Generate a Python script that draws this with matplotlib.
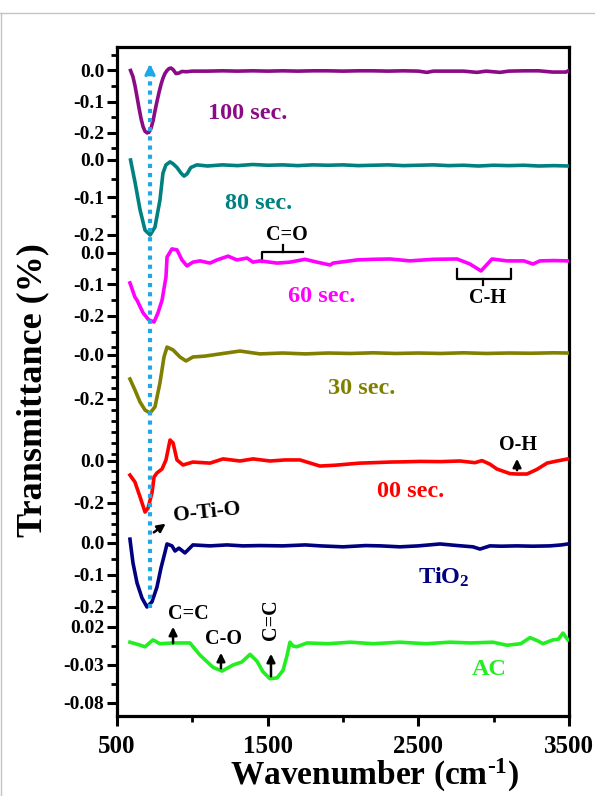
import numpy as np
import matplotlib
matplotlib.use("Agg")
import matplotlib.pyplot as plt
from matplotlib.lines import Line2D

plt.rcParams['font.family'] = ['Liberation Serif', 'DejaVu Serif']
plt.rcParams['font.weight'] = 'bold'
plt.rcParams['mathtext.fontset'] = 'custom'
plt.rcParams['mathtext.rm'] = 'Liberation Serif:bold'
plt.rcParams['mathtext.bf'] = 'Liberation Serif:bold'
plt.rcParams['mathtext.it'] = 'Liberation Serif:bold:italic'

# ---- spectra (wavenumber, transmittance) ----
wn_100 = [590, 606, 620, 633, 646, 660, 673, 686, 700, 712, 726, 740, 752, 765, 779, 792, 805, 818,
          832, 845, 858, 872, 892, 912, 931, 960, 1000, 1100, 1200, 1300, 1400, 1500, 1600, 1700,
          1800, 1900, 2000, 2100, 2200, 2300, 2400, 2500, 2557, 2600, 2700, 2800, 2889, 2950, 3042,
          3100, 3200, 3300, 3390, 3480, 3495]
tr_100 = [0.0, -0.02, -0.05, -0.085, -0.12, -0.155, -0.18, -0.195, -0.2, -0.198, -0.185, -0.16, -0.13,
          -0.1, -0.07, -0.045, -0.025, -0.01, 0.0, 0.006, 0.008, 0.003, -0.01, -0.008, -0.003, -0.004,
          -0.002, -0.002, -0.001, -0.002, -0.001, -0.002, -0.001, -0.002, -0.001, -0.001, -0.002,
          -0.001, -0.001, -0.002, -0.001, -0.002, -0.006, -0.002, -0.002, -0.002, -0.006, -0.002,
          -0.006, -0.002, -0.001, -0.001, -0.005, -0.005, -0.001]

wn_80 = [590, 620, 653, 686, 720, 752, 785, 805, 825, 852, 872, 898, 925, 945, 965, 990, 1030, 1100,
         1200, 1300, 1400, 1500, 1600, 1700, 1800, 1900, 2000, 2100, 2200, 2300, 2400, 2500, 2600,
         2700, 2800, 2900, 3000, 3100, 3200, 3300, 3400, 3495]
tr_80 = [0.0, -0.06, -0.133, -0.187, -0.2, -0.179, -0.107, -0.035, -0.013, -0.005, -0.01, -0.02,
         -0.035, -0.043, -0.037, -0.02, -0.013, -0.016, -0.013, -0.015, -0.012, -0.014, -0.013, -0.015,
         -0.013, -0.014, -0.013, -0.015, -0.014, -0.013, -0.015, -0.014, -0.013, -0.015, -0.014,
         -0.016, -0.014, -0.015, -0.014, -0.016, -0.015, -0.016]

wn_60 = [586, 619, 633, 673, 710, 746, 772, 799, 825, 832, 865, 898, 931, 964, 1004, 1051, 1117, 1164,
         1237, 1296, 1363, 1403, 1449, 1562, 1648, 1748, 1827, 1914, 1934, 2046, 2093, 2200, 2312,
         2445, 2600, 2757, 2843, 2916, 2989, 3088, 3200, 3261, 3307, 3400, 3493]
tr_60 = [-0.095, -0.14, -0.15, -0.19, -0.212, -0.219, -0.19, -0.15, -0.076, -0.013, 0.013, 0.01,
         -0.022, -0.041, -0.029, -0.025, -0.032, -0.022, -0.01, -0.022, -0.016, -0.029, -0.025, -0.032,
         -0.029, -0.02, -0.029, -0.038, -0.032, -0.025, -0.022, -0.02, -0.019, -0.025, -0.02, -0.019,
         -0.035, -0.057, -0.019, -0.025, -0.025, -0.035, -0.025, -0.024, -0.025]

wn_30 = [586, 619, 653, 686, 719, 752, 785, 812, 832, 872, 918, 958, 1004, 1084, 1184, 1316, 1449,
         1600, 1750, 1900, 2050, 2200, 2350, 2500, 2650, 2800, 2950, 3100, 3250, 3400, 3493]
tr_30 = [-0.109, -0.159, -0.214, -0.25, -0.264, -0.236, -0.127, -0.009, 0.036, 0.023, -0.009, -0.027,
         -0.009, -0.005, 0.005, 0.018, 0.005, 0.009, 0.005, 0.009, 0.007, 0.01, 0.007, 0.009, 0.007,
         0.01, 0.007, 0.009, 0.008, 0.01, 0.009]

wn_00 = [586, 619, 653, 686, 706, 732, 746, 765, 799, 825, 852, 872, 898, 938, 1004, 1117, 1204, 1316,
         1403, 1515, 1615, 1715, 1847, 1950, 2046, 2113, 2200, 2312, 2400, 2511, 2650, 2776, 2876,
         2922, 2975, 3021, 3108, 3154, 3221, 3287, 3354, 3420, 3493]
tr_00 = [-0.067, -0.1, -0.171, -0.243, -0.224, -0.152, -0.076, -0.057, -0.038, 0.005, 0.1, 0.086,
         0.005, -0.019, -0.005, -0.01, 0.01, 0.0, 0.01, 0.0, 0.005, 0.005, -0.024, -0.02, -0.014,
         -0.01, -0.008, -0.005, -0.004, -0.002, -0.003, 0.0, -0.008, 0.002, -0.015, -0.038, -0.06,
         -0.062, -0.062, -0.04, -0.01, 0.0, 0.01]

wn_tio2 = [586, 606, 633, 666, 699, 732, 765, 792, 819, 832, 865, 885, 911, 951, 1004, 1117, 1230,
           1336, 1450, 1600, 1750, 1850, 2000, 2150, 2250, 2378, 2500, 2644, 2760, 2863, 2909, 2975,
           3050, 3154, 3260, 3374, 3450, 3493]
tr_tio2 = [0.012, -0.062, -0.125, -0.172, -0.2, -0.184, -0.138, -0.078, -0.028, -0.003, -0.009,
           -0.025, -0.016, -0.031, -0.006, -0.009, -0.006, -0.009, -0.008, -0.009, -0.006, -0.009,
           -0.012, -0.008, -0.009, -0.012, -0.009, -0.003, -0.008, -0.012, -0.019, -0.009, -0.01,
           -0.009, -0.01, -0.009, -0.006, -0.003]

wn_ac = [586, 640, 686, 739, 785, 872, 984, 1051, 1137, 1197, 1270, 1329, 1383, 1429, 1469, 1515,
         1562, 1602, 1628, 1648, 1668, 1694, 1761, 1900, 2050, 2200, 2378, 2550, 2710, 2850, 2995,
         3088, 3180, 3241, 3290, 3327, 3393, 3430, 3460, 3493]
tr_ac = [0.0, -0.003, -0.006, 0.003, -0.002, -0.001, -0.001, -0.017, -0.033, -0.038, -0.03, -0.026,
         -0.016, -0.025, -0.039, -0.048, -0.047, -0.037, -0.018, 0.0, -0.005, -0.006, -0.001, -0.002,
         0.0, -0.002, 0.0, -0.002, 0.0, -0.001, 0.0, -0.004, -0.002, 0.006, 0.002, -0.002, 0.003,
         0.004, 0.012, 0.003]

names = ["100 sec.", "80 sec.", "60 sec.", "30 sec.", "00 sec.", "TiO$_2$", "AC"]
spectra = [(wn_100, tr_100), (wn_80, tr_80), (wn_60, tr_60), (wn_30, tr_30),
           (wn_00, tr_00), (wn_tio2, tr_tio2), (wn_ac, tr_ac)]

# per-trace y tick values and their printed labels
tick_vals = [[0.0, -0.1, -0.2], [0.0, -0.1, -0.2], [0.0, -0.1, -0.2], [0.0, -0.2],
             [0.0, -0.2], [0.0, -0.1, -0.2], [0.02, -0.03, -0.08]]
tick_text = [["0.0", "-0.1", "-0.2"], ["0.0", "-0.1", "-0.2"], ["0.0", "-0.1", "-0.2"],
             ["-0.0", "-0.2"], ["0.0", "-0.2"], ["0.0", "-0.1", "-0.2"], ["0.02", "-0.03", "-0.08"]]

tio_peak = 719  # O-Ti-O band

# ---- layout / style (stack offsets in axis units, top = 47, bottom = 716) ----
zero_pos = [70.5, 160, 253, 355, 461, 543, 642.2]
unit_len = [312, 375, 315, 220, 210, 320, 760]
minor_step = [0.05, 0.05, 0.05, 0.05, 0.05, 0.05, 0.025]
colors = ['#8B0A85', '#008080', '#FF00FF', '#808000', '#FF0000', '#000080', '#22EE22']
name_pos = [(1369, 114), (1442, 204), (1861, 297), (2126, 389), (2451, 492), (2670, 577), (2969, 670)]

fig = plt.figure(figsize=(5.95, 7.96), dpi=100)
W, H = 595, 796
ax = fig.add_axes([117 / W, 1 - 716 / H, (569 - 117) / W, (716 - 47) / H])
ax.set_xlim(500, 3500)
ax.set_ylim(716, 47)

def to_y(i, v):
    return zero_pos[i] - np.asarray(v) * unit_len[i]

for i, (wn, tr) in enumerate(spectra):
    ax.plot(wn, to_y(i, tr), color=colors[i], lw=2.6, solid_joinstyle='round', zorder=3)
    ax.text(name_pos[i][0], name_pos[i][1], names[i], color=colors[i], fontsize=17.5,
            fontweight='bold', ha='center', va='center')

# y ticks
major_pos, major_lab, minor_pos = [], [], []
for i in range(len(spectra)):
    major_pos += list(to_y(i, tick_vals[i]))
    major_lab += tick_text[i]
    top = max(tick_vals[i])
    limit = zero_pos[i + 1] - unit_len[i + 1] * max(tick_vals[i + 1]) - 5 if i + 1 < len(spectra) else 712
    v = top + minor_step[i] if i == 0 else top
    while True:
        y = float(to_y(i, v))
        if y > limit:
            break
        if all(abs(v - t) > 1e-6 for t in tick_vals[i]):
            minor_pos.append(y)
        v -= minor_step[i]
ax.set_yticks(major_pos)
ax.set_yticklabels(major_lab)
ax.set_yticks(minor_pos, minor=True)

ax.set_xticks([500, 1500, 2500, 3500])
ax.set_xticks([1000, 2000, 3000], minor=True)

for s in ax.spines.values():
    s.set_linewidth(2.3)
ax.tick_params(which='major', direction='out', length=7, width=2.2, top=False, right=False)
ax.tick_params(which='minor', direction='out', length=4, width=2.0, top=False, right=False)
ax.tick_params(axis='y', which='major', labelsize=14, pad=2)
ax.tick_params(axis='x', which='major', labelsize=18, pad=7)
for lab in ax.get_xticklabels() + ax.get_yticklabels():
    lab.set_fontweight('bold')

# dotted guide at the O-Ti-O band
ax.plot([tio_peak, tio_peak], [608, 72], color='#1EA8E6', lw=3, ls=(0, (1, 1.2)), zorder=4)
ax.annotate('', xy=(tio_peak, 61), xytext=(tio_peak, 74),
            arrowprops=dict(arrowstyle='->', color='#1EA8E6', lw=2.5, mutation_scale=14), zorder=4)

# band annotations
arrow_kw = dict(arrowstyle='-|>', color='k', lw=1.8, mutation_scale=12)
ax.annotate('', xy=(838, 522), xytext=(730, 534), arrowprops=arrow_kw)
ax.text(1097, 513, 'O-Ti-O', fontsize=15.5, fontweight='bold', ha='center', va='center', rotation=6)

ax.annotate('', xy=(872, 624), xytext=(872, 646), arrowprops=arrow_kw)
ax.text(971, 614, 'C=C', fontsize=14.5, fontweight='bold', ha='center', va='center')
ax.annotate('', xy=(1190, 650), xytext=(1190, 671), arrowprops=arrow_kw)
ax.text(1210, 639, 'C-O', fontsize=14.5, fontweight='bold', ha='center', va='center')
ax.annotate('', xy=(1522, 651), xytext=(1522, 679), arrowprops=arrow_kw)
ax.text(1522, 620, 'C=C', fontsize=14.5, fontweight='bold', ha='center', va='center', rotation=90)

ax.annotate('', xy=(3155, 456), xytext=(3155, 473), arrowprops=arrow_kw)
ax.text(3161, 445, 'O-H', fontsize=14.5, fontweight='bold', ha='center', va='center')

# brackets
ax.plot([1462, 1462, 1734], [262, 252, 252], color='k', lw=1.6)
ax.plot([1602, 1602], [252, 245], color='k', lw=1.6)
ax.text(1628, 235, 'C=O', fontsize=14.5, fontweight='bold', ha='center', va='center')

ax.plot([2757, 2757, 3115, 3115], [269, 279, 279, 269], color='k', lw=1.6)
ax.plot([2929, 2929], [279, 285], color='k', lw=1.6)
ax.text(2962, 298, 'C-H', fontsize=14.5, fontweight='bold', ha='center', va='center')

# axis titles
fig.text(33 / W, 1 - 390 / H, 'Transmittance (%)', rotation=90, fontsize=26,
         fontweight='bold', ha='center', va='center')
fig.text(375 / W, 1 - 775 / H, r'Wavenumber (cm$^{\text{-}1}$)', fontsize=24,
         fontweight='bold', ha='center', va='center')

# page border
fig.add_artist(Line2D([0, 1], [1 - 13 / H, 1 - 13 / H], transform=fig.transFigure, color='#c4c4c4', lw=1))
fig.add_artist(Line2D([1 / W, 1 / W], [0, 1 - 13 / H], transform=fig.transFigure, color='#c4c4c4', lw=1))

fig.savefig('out.png', dpi=100)
